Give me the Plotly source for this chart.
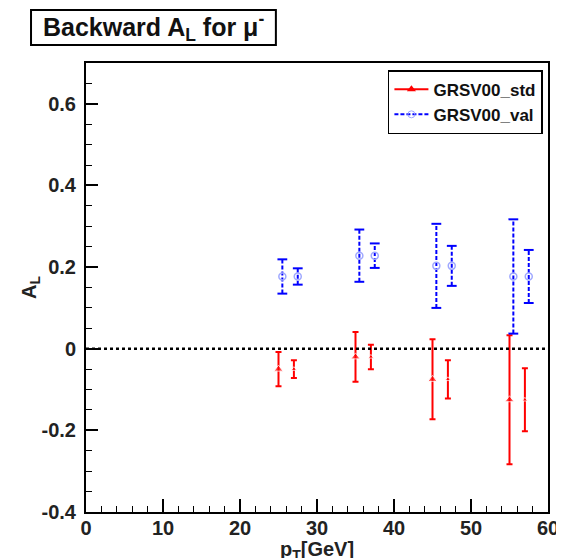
import plotly.graph_objects as go

# GRSV00_std (red, triangles)
std_pt = [25, 27, 35, 37, 45, 47, 55, 57]
std_al = [-0.05, -0.05, -0.02, -0.02, -0.075, -0.075, -0.125, -0.125]
std_err = [0.042, 0.022, 0.061, 0.030, 0.098, 0.047, 0.158, 0.077]
std_size = [8, 5, 8, 5, 8, 5, 8, 5]

# GRSV00_val (blue, open circles)
val_pt = [25.5, 27.5, 35.5, 37.5, 45.5, 47.5, 55.5, 57.5]
val_al = [0.177, 0.177, 0.228, 0.228, 0.203, 0.203, 0.177, 0.177]
val_err = [0.042, 0.020, 0.064, 0.030, 0.103, 0.049, 0.140, 0.065]

FONT = "Liberation Sans, Arial, sans-serif"

fig = go.Figure()

# red points with solid error bars
fig.add_trace(go.Scatter(
    x=std_pt, y=std_al, mode="markers", showlegend=False,
    marker=dict(symbol="triangle-up", size=std_size, color="red"),
    error_y=dict(type="data", array=std_err, color="red", thickness=2, width=3),
))

# blue dashed error bars, built from the data
seg_x, seg_y = [], []
for x, y, e in zip(val_pt, val_al, val_err):
    seg_x += [x, x, None]
    seg_y += [y - e, y + e, None]
fig.add_trace(go.Scatter(
    x=seg_x, y=seg_y, mode="lines", showlegend=False, hoverinfo="skip",
    line=dict(color="blue", width=2, dash="4px,2px"),
))
# caps at the ends of the blue bars
cap_x = val_pt + val_pt
cap_y = [y - e for y, e in zip(val_al, val_err)] + [y + e for y, e in zip(val_al, val_err)]
fig.add_trace(go.Scatter(
    x=cap_x, y=cap_y, mode="markers", showlegend=False, hoverinfo="skip",
    marker=dict(symbol="line-ew-open", size=7, color="blue", line=dict(color="blue", width=2)),
))
fig.add_trace(go.Scatter(
    x=val_pt, y=val_al, mode="markers", showlegend=False,
    marker=dict(symbol="circle-open", size=7, color="#9fa8ff", line=dict(width=1.5)),
))

# legend entries
fig.add_trace(go.Scatter(
    x=[None], y=[None], mode="lines+markers", name="GRSV00_std",
    line=dict(color="red", width=2),
    marker=dict(symbol="triangle-up", size=8, color="red"),
))
fig.add_trace(go.Scatter(
    x=[None], y=[None], mode="lines+markers", name="GRSV00_val",
    line=dict(color="blue", width=2, dash="4px,2px"),
    marker=dict(symbol="circle-open", size=7, color="#9fa8ff"),
))

# dotted zero line
fig.add_shape(type="line", xref="paper", x0=0, x1=1, yref="y", y0=0, y1=0,
              line=dict(color="black", width=2.5, dash="dot"))

# title box
fig.add_shape(type="rect", xref="paper", yref="paper",
              x0=-0.119, x1=0.411, y0=1.040, y1=1.118,
              line=dict(color="black", width=2), fillcolor="white")
fig.add_annotation(
    text="Backward A<sub>L</sub> for \u03bc<sup>-</sup>",
    xref="paper", yref="paper", x=0.146, y=1.081, xanchor="center", yanchor="middle",
    showarrow=False, font=dict(family=FONT, size=25, color="#111", weight="bold"),
)

# x axis title, placed just under the tick labels (cut by the page edge like the original)
fig.add_annotation(
    text="p<sub>T</sub>[GeV]",
    xref="paper", yref="paper", x=0.5, y=-0.053, xanchor="center", yanchor="top",
    showarrow=False, font=dict(family=FONT, size=20, color="#222", weight="bold"),
)

# page has ~8px body margin, so the figure is a bit smaller than the window
fig.update_layout(
    width=556, height=550,
    margin=dict(l=78, r=16, t=55, b=46),
    paper_bgcolor="white", plot_bgcolor="white",
    font=dict(family=FONT, size=20, color="#222", weight="bold"),
    legend=dict(
        x=0.989, y=0.984, xanchor="right", yanchor="top",
        bordercolor="black", borderwidth=1.5, bgcolor="white",
        font=dict(family=FONT, size=17, color="#111", weight="bold"),
        tracegroupgap=0, itemwidth=34,
    ),
    xaxis=dict(
        range=[0, 60], dtick=10, tick0=0, ticks="inside", ticklen=13,
        tickwidth=1.5, tickcolor="black", automargin=False, ticklabelstandoff=-3,
        minor=dict(dtick=2, ticks="inside", ticklen=6, tickcolor="black", tickwidth=1.2),
        showline=True, linecolor="black", linewidth=2, mirror=True,
        showgrid=False, zeroline=False,
        tickfont=dict(size=20),
    ),
    yaxis=dict(
        range=[-0.4, 0.7], dtick=0.2, tick0=0, ticks="inside", ticklen=12,
        tickwidth=1.5, tickcolor="black", automargin=False, ticklabelstandoff=4,
        minor=dict(dtick=0.05, ticks="inside", ticklen=6, tickcolor="black", tickwidth=1.2),
        showline=True, linecolor="black", linewidth=2, mirror=True,
        showgrid=False, zeroline=False,
        tickvals=[-0.4, -0.2, 0, 0.2, 0.4, 0.6],
        ticktext=["-0.4", "-0.2", "0", "0.2", "0.4", "0.6"],
        title=dict(text="A<sub>L</sub>", standoff=0, font=dict(size=20)),
        tickfont=dict(size=20),
    ),
)

fig.write_html("out.html")
